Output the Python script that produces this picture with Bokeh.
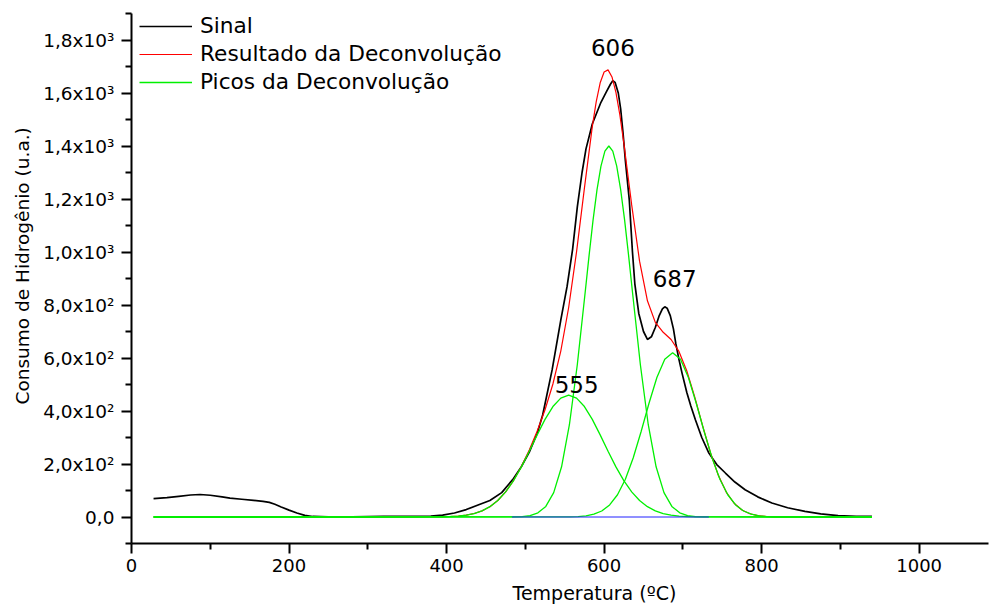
from bokeh.plotting import figure
from bokeh.models import FixedTicker, Label, Legend, LegendItem, Title
from bokeh.embed import file_html
from bokeh.resources import INLINE

# --- TPR signal: hydrogen consumption (a.u.) against temperature (°C) ---
signal_t = [28, 45, 60, 75, 87, 100, 115, 125, 140, 155, 167, 175, 182, 190, 200,
            210, 220, 230, 250, 280, 320, 360, 380, 395, 410, 425, 440, 455, 470,
            485, 495, 505, 515, 522, 534, 545, 553, 560, 566, 572, 577, 585, 596,
            603, 608, 611, 614, 618, 621, 624, 627, 632, 636, 639, 644, 650, 655,
            660, 665, 670, 674, 677, 680, 684, 688, 691, 695, 699, 705, 710, 716,
            724, 733, 743, 754, 766, 779, 795, 813, 833, 855, 875, 897, 920, 940]
signal_h = [69, 73, 78, 83, 85, 82, 76, 71, 67, 63, 59, 55, 48, 38, 26,
            15, 6, 2, 1, 1, 2, 2, 3, 7, 15, 28, 45, 62, 92,
            145, 190, 245, 315, 385, 555, 743, 870, 1010, 1170, 1300, 1389, 1483, 1565,
            1605, 1633, 1646, 1640, 1600, 1540, 1450, 1345, 1195, 1000, 880, 768, 700, 670,
            680, 715, 760, 785, 793, 788, 760, 710, 655, 595, 542, 470, 420, 366,
            300, 241, 198, 166, 132, 103, 76, 53, 35, 21, 12, 5, 2, 2]

# --- deconvolution result (sum of the three fitted peaks) ---
fit_t = [28, 385, 395, 405, 415, 425, 435, 445, 455, 465, 475, 485, 495, 505, 515,
         525, 535, 545, 555, 565, 575, 585, 590, 595, 600, 605, 610, 615, 620, 625,
         635, 645, 655, 665, 675, 685, 695, 705, 715, 725, 735, 745, 755, 765, 775,
         785, 795, 805, 815, 825, 835, 940]
fit_h = [0, 0.4, 0.8, 1.8, 3.6, 7.1, 13.1, 23.2, 39.0, 62.3, 94.8, 137.6, 190.6, 252.9, 324.0,
         404.9, 501.9, 626.2, 790.5, 1000.4, 1241.3, 1473.0, 1567.6, 1638.5, 1679.5, 1687.2,
         1660.6, 1602.2, 1516.9, 1411.9,
         1177.8, 965.5, 816.0, 734.5, 697.1, 669.8, 624.8, 551.0, 452.9, 344.8, 242.4, 157.1,
         93.9, 51.8, 26.3, 12.3, 5.3, 2.1, 0.8, 0.3, 0.1, 0]

# --- individual deconvolution peaks ---
peak1_t = [28, 375, 385, 395, 405, 415, 425, 435, 445, 455, 465, 475, 485, 495, 505, 515,
           525, 535, 545, 555, 565, 575, 585, 595, 605, 615, 625, 635, 645, 655, 665,
           675, 685, 695, 705, 715, 725, 735, 940]
peak1_h = [0, 0.15, 0.4, 0.8, 1.8, 3.6, 7.1, 13.1, 23.2, 39.0, 62.3, 94.7, 137.2, 189.1,
           248.1, 309.9, 368.3, 416.8, 448.8, 460.0, 448.8, 416.8, 368.3, 309.9, 248.1,
           189.1, 137.2, 94.7, 62.3, 39.0, 23.2, 13.1, 7.1, 3.6, 1.8, 0.8, 0.4, 0.15, 0]

peak2_t = [28, 476, 486, 496, 506, 516, 526, 536, 546, 556, 566, 576, 581, 586, 591, 596,
           601, 606, 611, 616, 621, 626, 631, 636, 646, 656, 666, 676, 686, 696, 706,
           716, 726, 736, 940]
peak2_h = [0, 0.1, 0.5, 1.7, 5.4, 15.6, 40.0, 92.0, 189.5, 349.1, 575.6, 849.1, 989.3,
           1121.0, 1235.5, 1324.3, 1380.7, 1400.0, 1380.7, 1324.3, 1235.5, 1121.0, 989.3,
           849.1, 575.6, 349.1, 189.5, 92.0, 40.0, 15.6, 5.4, 1.7, 0.5, 0.1, 0]

peak3_t = [28, 547, 557, 567, 577, 587, 597, 607, 617, 627, 637, 647, 657, 667, 677, 687,
           697, 707, 717, 727, 737, 747, 757, 767, 777, 787, 797, 807, 817, 827, 940]
peak3_h = [0, 0.2, 0.6, 1.7, 4.4, 10.5, 22.7, 45.5, 83.9, 142.7, 223.5, 322.7, 429.4,
           526.6, 595.2, 620.0, 595.2, 526.6, 429.4, 322.7, 223.5, 142.7, 83.9, 45.5,
           22.7, 10.5, 4.4, 1.7, 0.6, 0.2, 0]

# zero baseline of the fit
base_t = [483, 733]
base_h = [0, 0]

# peak temperatures written over the curves
peak_labels = ["555", "606", "687"]

# axis ticks and their labels
x_ticks = [0, 200, 400, 600, 800, 1000]
x_minor = [100, 300, 500, 700, 900]
y_ticks = [0, 200, 400, 600, 800, 1000, 1200, 1400, 1600, 1800]
y_minor = [-100, 100, 300, 500, 700, 900, 1100, 1300, 1500, 1700, 1900]
y_tick_labels = ["0,0", "2,0x10\u00b2", "4,0x10\u00b2", "6,0x10\u00b2", "8,0x10\u00b2",
                 "1,0x10\u00b3", "1,2x10\u00b3", "1,4x10\u00b3", "1,6x10\u00b3", "1,8x10\u00b3"]

FONT = "DejaVu Sans"
GREEN = "#00f000"

p = figure(width=989, height=609, x_range=(0, 1088), y_range=(-100, 1900),
           output_backend="svg", toolbar_location=None,
           min_border_left=131, min_border_right=1, min_border_top=13, min_border_bottom=65)
p.xgrid.visible = False
p.ygrid.visible = False
p.outline_line_color = None
p.background_fill_color = "white"
p.border_fill_color = "white"

for ax in (p.xaxis[0], p.yaxis[0]):
    ax.axis_line_width = 2
    ax.axis_line_color = "black"
    ax.major_tick_line_width = 2
    ax.minor_tick_line_width = 2
    ax.major_tick_in = 0
    ax.major_tick_out = 10
    ax.minor_tick_in = 0
    ax.minor_tick_out = 6
    ax.major_label_text_font = FONT
    ax.major_label_text_color = "black"

p.xaxis.major_label_text_font_size = "18px"
p.yaxis.major_label_text_font_size = "18.5px"
p.xaxis.ticker = FixedTicker(ticks=x_ticks, minor_ticks=x_minor)
p.yaxis.ticker = FixedTicker(ticks=y_ticks, minor_ticks=y_minor)
p.yaxis.major_label_overrides = {t: lab for t, lab in zip(y_ticks, y_tick_labels)}
p.xaxis.major_label_standoff = 5
p.yaxis.major_label_standoff = 7

r_sig = p.line(signal_t, signal_h, line_color="black", line_width=1.7)
r_fit = p.line(fit_t, fit_h, line_color="#ff0000", line_width=1.2)
r_p1 = p.line(peak1_t, peak1_h, line_color=GREEN, line_width=1.3)
r_p2 = p.line(peak2_t, peak2_h, line_color=GREEN, line_width=1.3)
r_p3 = p.line(peak3_t, peak3_h, line_color=GREEN, line_width=1.3)
p.line(base_t, base_h, line_color="#2020ff", line_width=1)

legend = Legend(items=[LegendItem(label="Sinal", renderers=[r_sig]),
                       LegendItem(label="Resultado da Deconvolução", renderers=[r_fit]),
                       LegendItem(label="Picos da Deconvolução", renderers=[r_p1])],
                location=(8, 449), border_line_color=None, background_fill_alpha=0,
                padding=0, margin=0, spacing=3, glyph_width=53, glyph_height=24,
                label_height=24, label_standoff=8, label_text_color="black",
                label_text_font=FONT, label_text_font_size="21.7px")
p.add_layout(legend)

# peak annotations: centred over each peak, just above the curve
peak_x = [555, 606, 687]
peak_top = [max(peak1_h), max(fit_h), 793]
peak_pad = [41, 84, 106]
peak_dx = [8, 4, 2]
for lab, x, top, pad, dx in zip(peak_labels, peak_x, peak_top, peak_pad, peak_dx):
    p.add_layout(Label(x=x, y=top + pad, x_offset=dx, text=lab, text_align="center",
                       text_baseline="alphabetic", text_font=FONT,
                       text_font_size="23px", text_color="black"))

# axis titles, each set a little off centre
p.add_layout(Title(text="Temperatura (ºC)", align="left", offset=381, standoff=11,
                   text_font=FONT, text_font_size="19px", text_font_style="normal",
                   text_color="black"), "below")
p.add_layout(Title(text="Consumo de  Hidrogênio (u.a.)", align="left", offset=139,
                   standoff=15, text_font=FONT, text_font_size="18.5px",
                   text_font_style="normal", text_color="black"), "left")

open("out.html", "w").write(file_html(p, INLINE))
